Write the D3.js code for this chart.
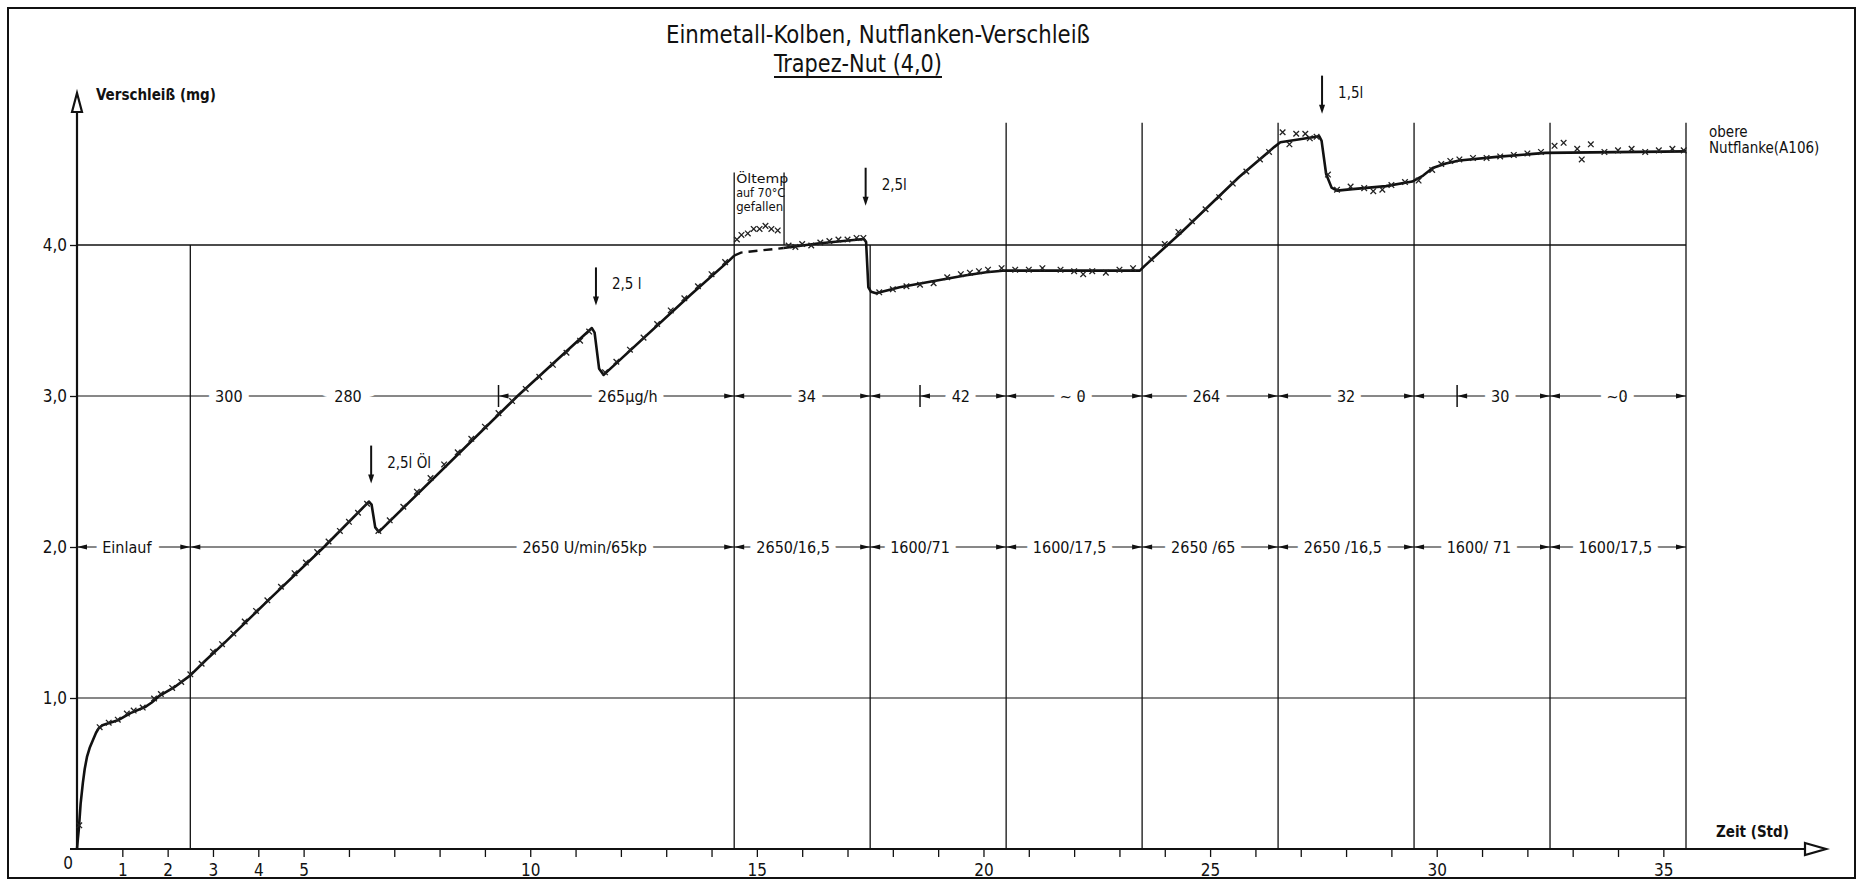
<!DOCTYPE html>
<html lang="de">
<head>
<meta charset="utf-8">
<title>Einmetall-Kolben, Nutflanken-Verschleiß</title>
<script src="https://cdn.jsdelivr.net/npm/d3@7"></script>
<style>
  body { margin: 0; background: #fff; }
  svg { display: block; }
  text { font-family: "DejaVu Sans Condensed", "DejaVu Sans", sans-serif; font-stretch: condensed; fill: #111; }
</style>
</head>
<body>
<div id="chart"></div>
<script>

// section boundaries (Std)
var boundaries = [2.5, 14.5, 17.5, 20.5, 23.5, 26.5, 29.5, 32.5, 35.5];
var xLabels = [0, 1, 2, 3, 4, 5, 10, 15, 20, 25, 30, 35];
var yTicks = [1, 2, 3, 4];
var yTickLabels = ["1,0", "2,0", "3,0", "4,0"];

// wear rate row (on the 3,0 line)
var rateLabels = ["300", "280", "265\u00b5g/h", "34", "42", "~ 0", "264", "32", "30", "~0"];
var ratePos = [3.35, 5.98, 12.15, 16.1, 19.5, 21.97, 24.92, 28.0, 31.4, 33.98];
var rateMarks = [9.3, 18.6, 30.45];

// running conditions row (on the 2,0 line)
var condLabels = ["Einlauf", "2650 U/min/65kp", "2650/16,5", "1600/71", "1600/17,5", "2650 /65", "2650 /16,5", "1600/ 71", "1600/17,5"];
var condPos = [1.1, 11.2, 15.8, 18.6, 21.9, 24.85, 27.93, 30.93, 33.94];

// oil additions
var oilT = [6.49, 11.45, 17.4, 27.47];
var oilTip = [2.42, 3.6, 4.26, 4.87];
var oilLabels = ["2,5l \u00d6l", "2,5 l", "2,5l", "1,5l"];

// oil temperature note
var noteLines = ["\u00d6ltemp", "auf 70\u00b0C", "gefallen"];

// fitted wear curve [Std, mg]
var curveSolid1 = [[0,0],[0.02,0.07],[0.04,0.13],[0.08,0.3],[0.13,0.44],[0.17,0.53],[0.22,0.61],[0.28,0.67],
  [0.35,0.72],[0.42,0.77],[0.48,0.8],[0.56,0.82],[0.66,0.83],[0.92,0.855],[1.18,0.9],[1.5,0.94],[1.65,0.97],
  [1.8,1.01],[2.14,1.07],[2.5,1.15],[2.84,1.25],[3.27,1.37],[4.23,1.65],[5.45,2.0],[6.44,2.3],[6.5,2.28],
  [6.58,2.13],[6.66,2.1],[9.72,3.0],[11.36,3.45],[11.42,3.42],[11.52,3.18],[11.62,3.14],[13.54,3.67],
  [14.4,3.9],[14.5,3.93]];
var curveDashed = [[14.5,3.93],[14.65,3.95],[15.59,3.98]];
var curveSolid2 = [[15.59,3.98],[16.34,4.01],[17.36,4.04],[17.41,4.02],[17.46,3.72],[17.52,3.69],[17.63,3.68],
  [18.15,3.72],[18.88,3.76],[19.62,3.8],[20.06,3.82],[20.42,3.83],[23.45,3.83],[23.55,3.86],[24.35,4.08],
  [25.64,4.45],[26.42,4.65],[26.55,4.68],[27.41,4.72],[27.46,4.69],[27.56,4.47],[27.68,4.38],[27.8,4.36],
  [28.14,4.37],[28.88,4.39],[29.46,4.42],[29.7,4.46],[29.91,4.51],[30.2,4.54],[30.5,4.56],[31.38,4.585],
  [32.4,4.61],[35.5,4.62]];

// measured points (x)
var measured = [[0.05,0.15],[0.5,0.8],[0.7,0.83],[0.9,0.85],[1.1,0.89],[1.25,0.91],[1.45,0.93],[1.7,0.99],
  [1.85,1.02],[2.1,1.06],[2.3,1.1],[2.5,1.15],[2.75,1.22],[3.0,1.3],[3.2,1.35],[3.45,1.42],[3.7,1.5],
  [3.95,1.57],[4.2,1.64],[4.5,1.73],[4.8,1.82],[5.05,1.89],[5.3,1.96],[5.55,2.03],[5.8,2.1],[6.0,2.16],
  [6.2,2.22],[6.4,2.28],[6.65,2.1],[6.9,2.17],[7.2,2.26],[7.5,2.36],[7.8,2.45],[8.1,2.54],[8.4,2.62],
  [8.7,2.71],[9.0,2.79],[9.3,2.88],[9.6,2.96],[9.9,3.04],[10.2,3.12],[10.5,3.2],[10.8,3.28],[11.1,3.36],
  [11.3,3.42],[11.65,3.15],[11.9,3.22],[12.2,3.3],[12.5,3.38],[12.8,3.47],[13.1,3.56],[13.4,3.64],
  [13.7,3.72],[14.0,3.8],[14.3,3.88],
  [14.56,4.03],[14.66,4.06],[14.8,4.07],[14.93,4.1],[15.06,4.1],[15.19,4.12],[15.32,4.1],[15.46,4.09],
  [15.7,3.99],[15.85,3.98],[16.0,4.0],[16.2,3.99],[16.4,4.01],[16.6,4.02],[16.8,4.03],[17.0,4.03],
  [17.2,4.04],[17.35,4.04],[17.7,3.68],[18.0,3.7],[18.3,3.72],[18.6,3.73],[18.9,3.74],[19.2,3.78],
  [19.5,3.8],[19.7,3.81],[19.9,3.82],[20.1,3.83],[20.4,3.84],[20.7,3.83],[21.0,3.83],[21.3,3.84],
  [21.7,3.83],[22.0,3.82],[22.2,3.8],[22.4,3.82],[22.7,3.81],[23.0,3.83],[23.3,3.84],[23.7,3.9],
  [24.0,4.0],[24.3,4.08],[24.6,4.15],[24.9,4.23],[25.2,4.31],[25.5,4.4],[25.8,4.48],[26.1,4.56],
  [26.3,4.61],[26.6,4.74],[26.75,4.66],[26.9,4.73],[27.1,4.73],[27.2,4.7],[27.35,4.71],[27.6,4.46],
  [27.8,4.36],[28.1,4.38],[28.4,4.37],[28.6,4.35],[28.8,4.36],[29.0,4.39],[29.3,4.41],[29.6,4.42],
  [29.9,4.49],[30.1,4.53],[30.3,4.55],[30.5,4.56],[30.8,4.57],[31.1,4.57],[31.4,4.58],[31.7,4.59],
  [32.0,4.6],[32.3,4.61],[32.6,4.65],[32.8,4.67],[33.1,4.63],[33.2,4.56],[33.4,4.66],[33.7,4.61],
  [34.0,4.62],[34.3,4.63],[34.6,4.61],[34.9,4.62],[35.2,4.63],[35.45,4.62]];

var W = 1859, H = 883;
var svg = d3.select("#chart").append("svg").attr("width", W).attr("height", H);

var x = d3.scaleLinear().domain([0, 35.5]).range([77, 1686]);
var y = d3.scaleLinear().domain([0, 4]).range([849, 245]);

// frame
svg.append("rect").attr("x", 8).attr("y", 8).attr("width", 1847).attr("height", 870)
  .attr("fill", "none").attr("stroke", "#111").attr("stroke-width", 2);

// title
svg.append("text").attr("x", 878).attr("y", 43).attr("text-anchor", "middle")
  .attr("font-size", 24).attr("textLength", 424).attr("lengthAdjust", "spacingAndGlyphs")
  .text("Einmetall-Kolben, Nutflanken-Verschleiß");
svg.append("text").attr("x", 858).attr("y", 72).attr("text-anchor", "middle")
  .attr("font-size", 24).attr("textLength", 168).attr("lengthAdjust", "spacingAndGlyphs")
  .text("Trapez-Nut (4,0)");
svg.append("line").attr("x1", 774).attr("x2", 942).attr("y1", 77).attr("y2", 77)
  .attr("stroke", "#111").attr("stroke-width", 2);

// horizontal grid lines 1,0 and 4,0
[1, 4].forEach(function(v) {
  svg.append("line").attr("x1", x(0)).attr("x2", x(35.5)).attr("y1", y(v)).attr("y2", y(v))
    .attr("stroke", "#111").attr("stroke-width", v == 4 ? 1.6 : 1.2);
});

// vertical section lines
boundaries.forEach(function(b) {
  var top = b == 2.5 || b == 17.5 ? 4 : (b == 14.5 ? 4.48 : 4.81);
  svg.append("line").attr("x1", x(b)).attr("x2", x(b)).attr("y1", y(0)).attr("y2", y(top))
    .attr("stroke", "#111").attr("stroke-width", 1.3);
});
// right edge of the oil temperature note
svg.append("line").attr("x1", x(15.6)).attr("x2", x(15.6)).attr("y1", y(4)).attr("y2", y(4.48))
  .attr("stroke", "#111").attr("stroke-width", 1.3);

function arrowHead(px, py, dir) {
  svg.append("path")
    .attr("d", "M" + px + "," + py + "L" + (px - dir * 10) + "," + (py - 2.5) + "L" + (px - dir * 10) + "," + (py + 2.5) + "Z")
    .attr("fill", "#111");
}

function haloText(t, v, s) {
  svg.append("text").attr("x", x(t)).attr("y", y(v) + 6).attr("text-anchor", "middle")
    .attr("font-size", 16).attr("stroke", "#fff").attr("stroke-width", 14)
    .attr("paint-order", "stroke").text(s);
}

// rate row at 3,0
svg.append("line").attr("x1", x(0)).attr("x2", x(35.5)).attr("y1", y(3)).attr("y2", y(3))
  .attr("stroke", "#111").attr("stroke-width", 1);
boundaries.slice(1).forEach(function(b) {
  arrowHead(x(b), y(3), 1);
  if (b < 35.5) arrowHead(x(b), y(3), -1);
});
rateMarks.forEach(function(m) {
  svg.append("line").attr("x1", x(m)).attr("x2", x(m)).attr("y1", y(3) - 11).attr("y2", y(3) + 11)
    .attr("stroke", "#111").attr("stroke-width", 1.5);
  arrowHead(x(m), y(3), -1);
});
rateLabels.forEach(function(s, i) { haloText(ratePos[i], 3, s); });

// condition row at 2,0
svg.append("line").attr("x1", x(0)).attr("x2", x(35.5)).attr("y1", y(2)).attr("y2", y(2))
  .attr("stroke", "#111").attr("stroke-width", 1);
arrowHead(x(0), y(2), -1);
boundaries.forEach(function(b) {
  arrowHead(x(b), y(2), 1);
  if (b < 35.5) arrowHead(x(b), y(2), -1);
});
condLabels.forEach(function(s, i) { haloText(condPos[i], 2, s); });

// axes
var xAxis = svg.append("g").attr("transform", "translate(0," + y(0) + ")")
  .call(d3.axisBottom(x).tickValues(d3.range(1, 36)).tickSize(8)
    .tickFormat(function(d) { return xLabels.indexOf(d) >= 0 ? d : ""; }));
xAxis.select(".domain").remove();
xAxis.selectAll("line").attr("stroke", "#111").attr("stroke-width", 1.3);
xAxis.selectAll("text").attr("font-size", 17).attr("dy", "0.95em").attr("fill", "#111");
svg.append("text").attr("x", x(0) - 9).attr("y", 869).attr("text-anchor", "middle")
  .attr("font-size", 17).text("0");

var yAxis = svg.append("g").attr("transform", "translate(" + x(0) + ",0)")
  .call(d3.axisLeft(y).tickValues(yTicks).tickSize(7)
    .tickFormat(function(d, i) { return yTickLabels[i]; }));
yAxis.select(".domain").remove();
yAxis.selectAll("line").attr("stroke", "#111").attr("stroke-width", 1.3);
yAxis.selectAll("text").attr("font-size", 17).attr("fill", "#111");

// axis lines with open arrows
svg.append("line").attr("x1", 70).attr("x2", 1810).attr("y1", y(0)).attr("y2", y(0))
  .attr("stroke", "#111").attr("stroke-width", 2.2);
svg.append("path").attr("d", "M1805," + (y(0) - 6) + "L1826," + y(0) + "L1805," + (y(0) + 6) + "Z")
  .attr("fill", "#fff").attr("stroke", "#111").attr("stroke-width", 2.2);
svg.append("line").attr("x1", x(0)).attr("x2", x(0)).attr("y1", y(0)).attr("y2", 110)
  .attr("stroke", "#111").attr("stroke-width", 2.2);
svg.append("path").attr("d", "M" + (x(0) - 5) + ",112L" + x(0) + ",93L" + (x(0) + 5) + ",112Z")
  .attr("fill", "#fff").attr("stroke", "#111").attr("stroke-width", 2.2);

svg.append("text").attr("x", 96).attr("y", 100).attr("font-size", 15).attr("font-weight", "bold")
  .text("Verschleiß (mg)");
svg.append("text").attr("x", 1716).attr("y", 837).attr("font-size", 15).attr("font-weight", "bold")
  .text("Zeit (Std)");

// wear curve
var line = d3.line().x(function(d) { return x(d[0]); }).y(function(d) { return y(d[1]); });
svg.append("path").attr("d", line(curveSolid1)).attr("fill", "none")
  .attr("stroke", "#111").attr("stroke-width", 2.6).attr("stroke-linejoin", "round");
svg.append("path").attr("d", line(curveDashed)).attr("fill", "none")
  .attr("stroke", "#111").attr("stroke-width", 2.4).attr("stroke-dasharray", "9,6");
svg.append("path").attr("d", line(curveSolid2)).attr("fill", "none")
  .attr("stroke", "#111").attr("stroke-width", 2.6).attr("stroke-linejoin", "round");

// measured points
svg.append("g").selectAll("path").data(measured).join("path")
  .attr("d", function(d) {
    var cx = x(d[0]), cy = y(d[1]) - 1, r = 2.8;
    return "M" + (cx - r) + "," + (cy - r) + "L" + (cx + r) + "," + (cy + r) +
      "M" + (cx - r) + "," + (cy + r) + "L" + (cx + r) + "," + (cy - r);
  })
  .attr("stroke", "#222").attr("stroke-width", 1.3).attr("fill", "none");

// oil additions
oilT.forEach(function(t, i) {
  var px = x(t), tip = y(oilTip[i]);
  svg.append("line").attr("x1", px).attr("x2", px).attr("y1", tip - 38).attr("y2", tip - 6)
    .attr("stroke", "#111").attr("stroke-width", 2);
  svg.append("path").attr("d", "M" + (px - 3) + "," + (tip - 9) + "L" + px + "," + tip + "L" + (px + 3) + "," + (tip - 9) + "Z")
    .attr("fill", "#111");
  svg.append("text").attr("x", px + 16).attr("y", tip - 16).attr("font-size", 15).text(oilLabels[i]);
});

// oil temperature note
var noteWidth = [52, 49, 47];
noteLines.forEach(function(s, i) {
  svg.append("text").attr("x", x(14.5) + 2).attr("y", 183 + i * 14).attr("font-size", 12.5)
    .attr("textLength", noteWidth[i]).attr("lengthAdjust", "spacingAndGlyphs").text(s);
});

// series label
svg.append("text").attr("x", 1709).attr("y", 137).attr("font-size", 15).text("obere");
svg.append("text").attr("x", 1709).attr("y", 153).attr("font-size", 15).text("Nutflanke(A106)");

</script>
</body>
</html>
